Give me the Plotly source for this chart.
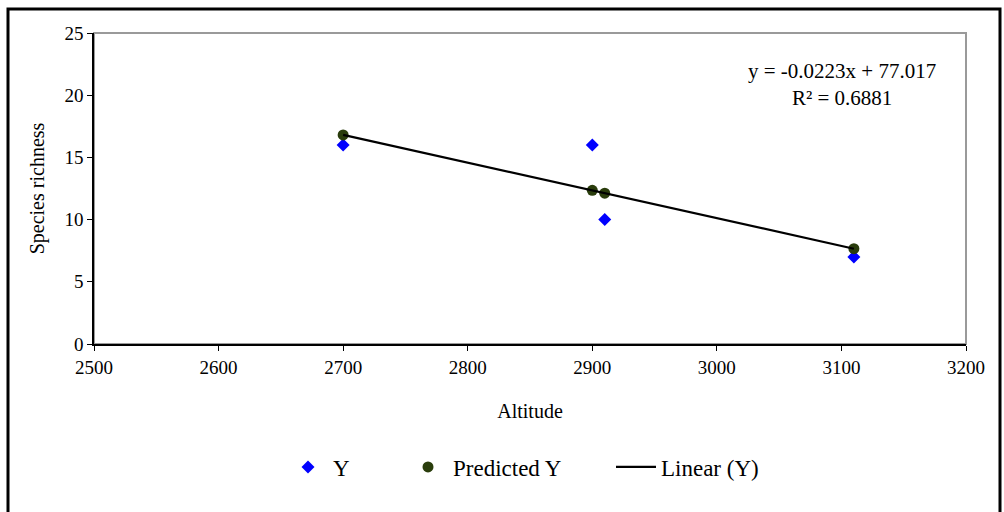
import plotly.graph_objects as go

# Data
altitude = [2700, 2900, 2910, 3110]
species_y = [16, 16, 10, 7]
predicted_y = [16.81, 12.35, 12.12, 7.66]
trend_x = [2700, 3110]
trend_y = [16.81, 7.66]
equation_text = "y = -0.0223x + 77.017<br>R² = 0.6881"

FONT = "Liberation Serif, Times New Roman, serif"

# plot area target on screen: x 94..966, y 33..344
W, H = 1004, 512
L, T = 94, 33
R = W - 966
B = H - 344
PW, PH = 966 - 94, 344 - 33


def px(xs):
    return (xs - 94) / PW


def py(ys):
    return (344 - ys) / PH


fig = go.Figure()
fig.add_trace(go.Scatter(
    x=altitude, y=species_y, mode="markers", name="Y", legend="legend",
    marker=dict(symbol="diamond", size=10, color="#0000ff"),
))
fig.add_trace(go.Scatter(
    x=altitude, y=predicted_y, mode="markers", name="Predicted Y", legend="legend2",
    marker=dict(symbol="circle", size=11, color="#2a3d0c"),
))
fig.add_trace(go.Scatter(
    x=trend_x, y=trend_y, mode="lines", name="Linear (Y)", legend="legend3",
    line=dict(color="black", width=2.2),
))

# plot-area border (gray top/right)
fig.add_shape(type="rect", xref="paper", yref="paper", x0=0, y0=0, x1=1, y1=1,
              line=dict(color="#9a9a9a", width=2), layer="below")
# outer chart border
fig.add_shape(type="rect", xref="paper", yref="paper",
              x0=px(8), x1=px(1000), y0=py(530), y1=py(9),
              line=dict(color="black", width=3))

fig.add_annotation(xref="paper", yref="paper", x=px(842), y=py(84),
                   xanchor="center", yanchor="middle",
                   text=equation_text, showarrow=False, align="center",
                   font=dict(family=FONT, size=21, color="black"))

leg_common = dict(orientation="h", y=py(467), yanchor="middle", xanchor="left",
                  font=dict(family=FONT, size=23, color="black"),
                  bgcolor="rgba(0,0,0,0)", itemwidth=40)

fig.update_layout(
    width=W, height=H,
    margin=dict(l=L, r=R, t=T, b=B),
    paper_bgcolor="white", plot_bgcolor="white",
    font=dict(family=FONT, size=19, color="black"),
    showlegend=True,
    legend=dict(x=px(283), **leg_common),
    legend2=dict(x=px(403), **leg_common),
    legend3=dict(x=px(611), **leg_common),
    xaxis=dict(range=[2500, 3200], dtick=100, tick0=2500, showgrid=False,
               zeroline=False, showline=True, linecolor="black", linewidth=1.5,
               ticks="outside", ticklen=5, tickcolor="black",
               title=dict(text="Altitude", font=dict(family=FONT, size=20), standoff=27),
               tickfont=dict(family=FONT, size=19)),
    yaxis=dict(range=[0, 25], dtick=5, showgrid=False, zeroline=False,
               showline=True, linecolor="black", linewidth=1.5,
               ticks="outside", ticklen=5, tickcolor="black",
               title=dict(text="Species richness", font=dict(family=FONT, size=20), standoff=14),
               tickfont=dict(family=FONT, size=19)),
    xaxis2=dict(overlaying="x", matches="x", anchor="y", side="bottom",
                range=[2500, 3200], dtick=100, tick0=2500, ticks="inside",
                ticklen=5, tickcolor="black", showticklabels=False,
                showgrid=False, zeroline=False, showline=False),
    yaxis2=dict(overlaying="y", matches="y", anchor="x", side="left",
                range=[0, 25], dtick=5, ticks="inside", ticklen=5,
                tickcolor="black", showticklabels=False, showgrid=False,
                zeroline=False, showline=False),
)

fig.write_html(
    "out.html",
    config={"displayModeBar": False},
    post_script="document.body.style.margin='0';document.body.style.overflow='hidden';",
)
